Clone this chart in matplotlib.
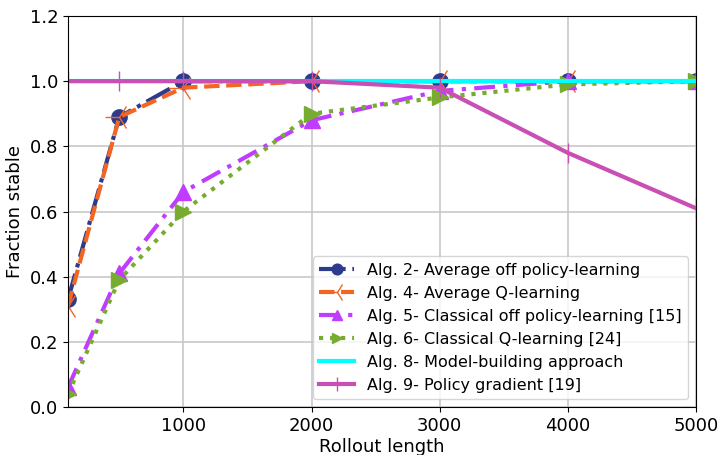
import matplotlib
matplotlib.use("Agg")
import matplotlib.pyplot as plt

rollout = [100, 500, 1000, 2000, 3000, 4000, 5000]
alg2 = [0.33, 0.89, 1.0, 1.0, 1.0, 1.0, 1.0]
alg4 = [0.31, 0.89, 0.98, 1.0, 1.0, 1.0, 1.0]
alg5 = [0.06, 0.41, 0.66, 0.88, 0.97, 1.0, 1.0]
alg6 = [0.04, 0.39, 0.60, 0.90, 0.95, 0.99, 1.0]
alg8 = [1.0, 1.0, 1.0, 1.0, 1.0, 1.0, 1.0]
alg9 = [1.0, 1.0, 1.0, 1.0, 0.98, 0.78, 0.61]

labels = ["Alg. 2- Average off policy-learning",
          "Alg. 4- Average Q-learning",
          "Alg. 5- Classical off policy-learning [15]",
          "Alg. 6- Classical Q-learning [24]",
          "Alg. 8- Model-building approach",
          "Alg. 9- Policy gradient [19]"]

plt.rcParams['font.size'] = 13

fig = plt.figure(figsize=(7.2, 4.55), dpi=100)
ax = fig.add_axes([68/720, 1 - 407/455, (696-68)/720, (407-16)/455])

ax.plot(rollout, alg2, color='#2e3a8c', linestyle='-.', linewidth=3, marker='o', markersize=11, label=labels[0])
ax.plot(rollout, alg4, color='#f26522', linestyle='--', linewidth=3, marker='3', markersize=20, label=labels[1])
ax.plot(rollout, alg5, color='#c03cff', linestyle=(0, (5, 2, 1, 2)), linewidth=3, marker='^', markersize=11, label=labels[2])
ax.plot(rollout, alg6, color='#77ac30', linestyle=':', linewidth=3, marker='>', markersize=11, label=labels[3])
ax.plot(rollout, alg8, color='#00ffff', linestyle='-', linewidth=3, label=labels[4])
ax.plot(rollout, alg9, color='#c84fb4', linestyle='-', linewidth=3, marker='|', markersize=14, label=labels[5])

ax.set_xlim(100, 5000)
ax.set_ylim(0, 1.2)
ax.set_xticks([1000, 2000, 3000, 4000, 5000])
ax.set_yticks([0.0, 0.2, 0.4, 0.6, 0.8, 1.0, 1.2])
ax.grid(True, color='#c8c8c8', linewidth=1.2)
ax.set_axisbelow(True)
ax.set_xlabel("Rollout length", labelpad=2)
ax.set_ylabel("Fraction stable")
ax.legend(loc='lower right', fontsize=11.5, handlelength=2.2, markerscale=0.7, borderaxespad=0.5)

fig.savefig("out.png", dpi=100)
